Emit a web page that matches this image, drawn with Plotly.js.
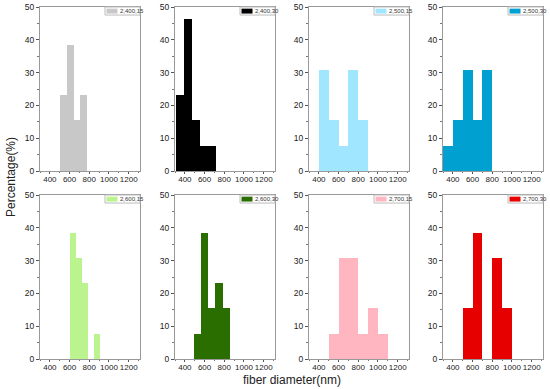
<!DOCTYPE html>
<html>
<head>
<meta charset="utf-8">
<script src="https://cdn.plot.ly/plotly-3.0.1.min.js"></script>
<style>html,body{margin:0;padding:0;background:#fff;}#chart{width:550px;height:389px;}</style>
</head>
<body>
<div id="chart"></div>
<script>
// Series labels
var seriesNames = ["2,400,15", "2,400,30", "2,500,15", "2,500,30", "2,600,15", "2,600,30", "2,700,15", "2,700,30"];
var seriesColors = ["#c8c8c8", "#000000", "#a0e6ff", "#00a0d0", "#bbf38f", "#2a6e00", "#ffb6c1", "#e60000"];

// Bin centres (nm) and bin widths (nm) for each histogram
var bins_2400_15 = [535, 605, 675, 745];
var bins_2400_30 = [349, 431, 513, 595, 677];
var bins_2500_15 = [450, 550, 650, 750, 850];
var bins_2500_30 = [350, 450, 550, 650, 750];
var bins_2600_15 = [635, 696, 757, 818, 879];
var bins_2600_30 = [527, 600, 673, 746, 819];
var bins_2700_15 = [550, 650, 750, 850, 950, 1050];
var bins_2700_30 = [550, 650, 750, 850, 950];
var binWidths = [70, 82, 100, 100, 61, 73, 100, 100];

// Percentages (%)
var pct_2400_15 = [23.1, 38.5, 15.4, 23.1];
var pct_2400_30 = [23.1, 46.2, 15.4, 7.7, 7.7];
var pct_2500_15 = [30.8, 15.4, 7.7, 30.8, 15.4];
var pct_2500_30 = [7.7, 15.4, 30.8, 15.4, 30.8];
var pct_2600_15 = [38.5, 30.8, 23.1, 0, 7.7];
var pct_2600_30 = [7.7, 38.5, 15.4, 23.1, 15.4];
var pct_2700_15 = [7.7, 30.8, 30.8, 7.7, 15.4, 7.7];
var pct_2700_30 = [15.4, 38.5, 0, 30.8, 15.4];

// Axis ticks
var xTicks = [400, 600, 800, 1000, 1200];
var yTicks = [0, 10, 20, 30, 40, 50];

var allBins = [bins_2400_15, bins_2400_30, bins_2500_15, bins_2500_30, bins_2600_15, bins_2600_30, bins_2700_15, bins_2700_30];
var allPct = [pct_2400_15, pct_2400_30, pct_2500_15, pct_2500_30, pct_2600_15, pct_2600_30, pct_2700_15, pct_2700_30];

var W = 550, H = 389;
var colPx = [[40, 140], [175, 275], [309, 409], [443, 543]];
var rowPx = [[7, 171], [195, 359]];

var data = [];
var layout = {
  width: W, height: H,
  margin: {l: 0, r: 0, t: 0, b: 0},
  paper_bgcolor: "#fff", plot_bgcolor: "#fff",
  showlegend: false,
  bargap: 0,
  font: {family: "Arial, Liberation Sans, sans-serif", color: "#222"},
  shapes: [], annotations: []
};

for (var i = 0; i < 8; i++) {
  var r = Math.floor(i / 4), c = i % 4;
  var n = i + 1;
  var xa = n === 1 ? "x" : "x" + n;
  var ya = n === 1 ? "y" : "y" + n;
  var xk = n === 1 ? "xaxis" : "xaxis" + n;
  var yk = n === 1 ? "yaxis" : "yaxis" + n;
  data.push({
    type: "bar", x: allBins[i], y: allPct[i],
    width: allBins[i].map(function () { return binWidths[i]; }),
    marker: {color: seriesColors[i], line: {width: 0}},
    name: seriesNames[i], xaxis: xa, yaxis: ya,
    hoverinfo: "x+y"
  });
  layout[xk] = {
    domain: [colPx[c][0] / W, colPx[c][1] / W],
    anchor: ya, range: [300, 1315],
    tickvals: xTicks, ticks: "outside", ticklen: 2, tickwidth: 1, tickcolor: "#555",
    tickangle: 0, automargin: false, ticklabelstandoff: -2,
    minor: {ticks: "outside", ticklen: 1, tickcolor: "#777", dtick: 100, tick0: 0},
    showline: true, linecolor: "#999", linewidth: 1, mirror: true,
    showgrid: false, zeroline: false,
    tickfont: {size: 8, color: "#222"}, fixedrange: true
  };
  layout[yk] = {
    domain: [1 - rowPx[r][1] / H, 1 - rowPx[r][0] / H],
    anchor: xa, range: [0, 50],
    tickvals: yTicks, ticks: "outside", ticklen: 3, tickwidth: 1, tickcolor: "#555",
    automargin: false,
    minor: {ticks: "outside", ticklen: 2, tickcolor: "#777", dtick: 5, tick0: 0},
    showline: true, linecolor: "#999", linewidth: 1, mirror: true,
    showgrid: false, zeroline: false,
    tickfont: {size: 8.5, color: "#222"}, fixedrange: true
  };
  // legend box
  layout.shapes.push({type: "rect", xref: xa + " domain", yref: ya + " domain",
    x0: 0.65, x1: 1.0, y0: 0.951, y1: 1.0,
    line: {color: "#bbb", width: 1}, fillcolor: "#fff", layer: "above"});
  layout.shapes.push({type: "rect", xref: xa + " domain", yref: ya + " domain",
    x0: 0.665, x1: 0.775, y0: 0.96, y1: 0.99,
    line: {width: 0}, fillcolor: seriesColors[i], layer: "above"});
  layout.annotations.push({xref: xa + " domain", yref: ya + " domain",
    x: 0.78, y: 0.975, xanchor: "left", yanchor: "middle", showarrow: false,
    text: seriesNames[i], font: {size: 6, color: "#333"}});
}

layout.annotations.push({xref: "paper", yref: "paper", x: 11 / W, y: 1 - 177 / H,
  text: "Percentage(%)", textangle: -90, showarrow: false, xanchor: "center", yanchor: "middle",
  font: {size: 12, color: "#222"}});
layout.annotations.push({xref: "paper", yref: "paper", x: 292 / W, y: 1 - 380 / H,
  text: "fiber diameter(nm)", showarrow: false, xanchor: "center", yanchor: "middle",
  font: {size: 12, color: "#222"}});

Plotly.newPlot("chart", data, layout, {staticPlot: true, displayModeBar: false});
</script>
</body>
</html>
